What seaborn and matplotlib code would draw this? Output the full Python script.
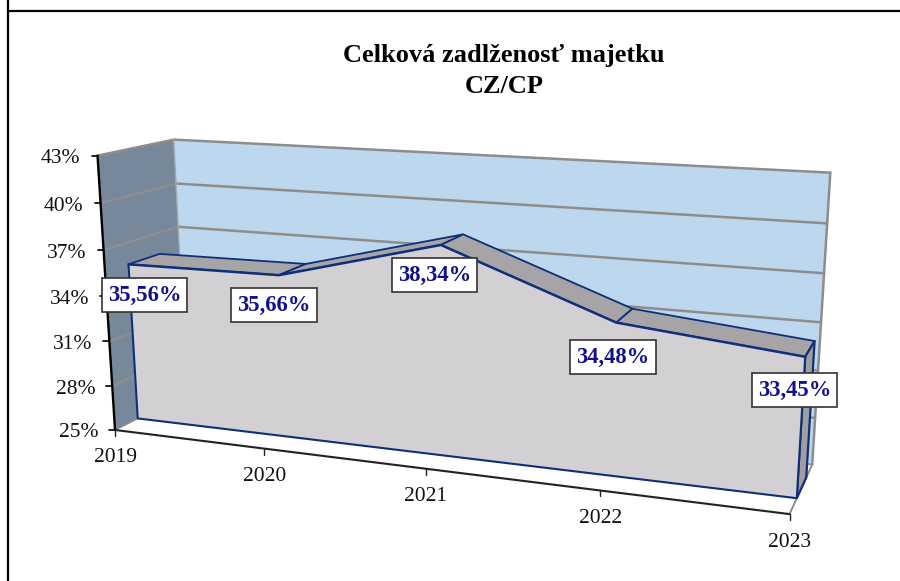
import numpy as np
import pandas as pd
import matplotlib
matplotlib.use("Agg")
import matplotlib.pyplot as plt
from matplotlib.transforms import Transform
import seaborn as sns

years = ["2019", "2020", "2021", "2022", "2023"]
values = [35.56, 35.66, 38.34, 34.48, 33.45]
labels = ["35,56%", "35,66%", "38,34%", "34,48%", "33,45%"]
y_ticks = [25, 28, 31, 34, 37, 40, 43]
title = "Celková zadlženosť majetku\nCZ/CP"

# where the label boxes sit, in pixels
label_pos = [(144.5, 295), (274, 305), (434.5, 275), (613, 357), (794.5, 390)]

# calibration of the 3d box: (category, value, depth) -> pixel
calib = [
    (0, 25, 0, 115, 427), (1, 25, 0, 263, 448), (2, 25, 0, 427, 468),
    (3, 25, 0, 600, 492), (4, 25, 0, 790, 515), (0, 43, 0, 98, 157),
    (0, 34, 0, 106, 297), (0, 43, 1, 173, 139), (4, 43, 1, 831, 173),
    (4, 25, 1, 812, 463), (0, 25, 1, 187, 397),
    (0, 37, 1, 179, 225), (4, 37, 1, 823, 273),
]
rows, rhs = [], []
for cx, cv, cd, px, py in calib:
    w = [cx, cv, cd, 1]
    rows.append(w + [0, 0, 0, 0] + [-px * c for c in w[:3]])
    rows.append([0, 0, 0, 0] + w + [-py * c for c in w[:3]])
    rhs += [px, py]
P = np.append(np.linalg.lstsq(np.array(rows, float), np.array(rhs, float), rcond=None)[0], 1).reshape(3, 4)


class Box3D(Transform):
    input_dims = 2
    output_dims = 2

    def __init__(self, box_depth):
        super().__init__()
        self.box_depth = box_depth

    def transform_non_affine(self, xy):
        xy = np.asarray(xy, float)
        w = np.column_stack([xy[:, 0], xy[:, 1], np.full(len(xy), self.box_depth), np.ones(len(xy))])
        out = w @ P.T
        return out[:, :2] / out[:, 2:]


def proj(x, v, d):
    return Box3D(d).transform_non_affine([(x, v)])[0]


def poly(ax, pts, **kw):
    ax.fill([p[0] for p in pts], [p[1] for p in pts], **kw)


sns.set_theme(style="white", rc={"font.family": ["Liberation Serif", "DejaVu Serif"]})
plt.rcParams["font.family"] = ["Liberation Serif", "DejaVu Serif"]

fig = plt.figure(figsize=(9, 5.81), dpi=100, facecolor="white")
ax = fig.add_axes([0, 0, 1, 1])
ax.axis("off")

navy = "#0F2F78"
grid = "#8F8D8B"
front_d, back_d = 0.3, 0.72
last = len(years) - 1
xs = np.arange(len(years))
df = pd.DataFrame({"x": xs, "v": values})

# walls and floor
poly(ax, [proj(0, 25, 0), proj(0, 43, 0), proj(0, 43, 1), proj(0, 25, 1)], color="#76889A", lw=0, zorder=1)
poly(ax, [proj(0, 25, 1), proj(0, 43, 1), proj(last, 43, 1), proj(last, 25, 1)], color="#BDD7EE", lw=0, zorder=1)

for t in y_ticks:
    a, b, c = proj(0, t, 0), proj(0, t, 1), proj(last, t, 1)
    ax.plot([a[0], b[0], c[0]], [a[1], b[1], c[1]], color=grid, lw=1.8 if t > 25 else 1.2, zorder=2)
a, b = proj(last, 25, 1), proj(last, 43, 1)
ax.plot([a[0], b[0]], [a[1], b[1]], color=grid, lw=1.8, zorder=2)
a, b = proj(0, 25, 1), proj(0, 43, 1)
ax.plot([a[0], b[0]], [a[1], b[1]], color="#A0A8B0", lw=1.0, zorder=2)
a, b = proj(last, 25, 0), proj(last, 25, 1)
ax.plot([a[0], b[0]], [a[1], b[1]], color=grid, lw=1.4, zorder=2)

# top faces of the area
for i in range(last):
    poly(ax, [proj(i, values[i], front_d), proj(i + 1, values[i + 1], front_d),
              proj(i + 1, values[i + 1], back_d), proj(i, values[i], back_d)],
         facecolor="#A6A4A6", edgecolor=navy, lw=1.3, zorder=3)
poly(ax, [proj(last, 25, front_d), proj(last, values[last], front_d),
          proj(last, values[last], back_d), proj(last, 25, back_d)],
     facecolor="#A09E9E", edgecolor=navy, lw=1.6, zorder=3)

# front face of the area
front = Box3D(front_d) + ax.transData
ax.fill_between(xs, 25, values, transform=front, facecolor="#D2D0D2", edgecolor="none", zorder=4)
sns.lineplot(data=df, x="x", y="v", estimator=None, sort=False, color=navy, lw=1.8,
             transform=front, ax=ax, zorder=5)
outline_x = [last, 0, 0, last, last]
outline_v = [values[last], values[0], 25, 25, values[last]]
ends = pd.DataFrame({"x": outline_x[1:], "v": outline_v[1:]})
sns.lineplot(data=ends, x="x", y="v", estimator=None, sort=False, color=navy, lw=1.5,
             transform=front, ax=ax, zorder=5)

# axes
sns.lineplot(x=[0, 0], y=[25, 43], estimator=None, sort=False, color="black", lw=1.7,
             transform=Box3D(0) + ax.transData, ax=ax, zorder=6)
sns.lineplot(x=[0, last], y=[25, 25], estimator=None, sort=False, color="#222222", lw=1.5,
             transform=Box3D(0) + ax.transData, ax=ax, zorder=6)
for t in y_ticks:
    px, py = proj(0, t, 0)
    ax.plot([px - 6, px], [py, py], color="black", lw=1.2, zorder=6)
    ax.text(px - 17, py + 3, f"{t}%", ha="right", va="center", fontsize=15.5, color="#111111", zorder=7)
for i, yr in enumerate(years):
    px, py = proj(i, 25, 0)
    ax.plot([px, px], [py, py + 6], color="#222222", lw=1.0, zorder=6)
    ax.text(px, py + 28, yr, ha="center", va="center", fontsize=15.5, color="#111111", zorder=7)

for (lx, ly), lab in zip(label_pos, labels):
    ax.text(lx, ly, lab, ha="center", va="center", fontsize=16.3, fontweight="bold", color="#10108C",
            zorder=8, bbox=dict(boxstyle="square,pad=0.27", fc="white", ec="#333333", lw=1.2))

ax.text(504, 71, title, ha="center", va="center", fontsize=19, fontweight="bold", color="black",
        linespacing=1.39, zorder=8)

# outer frame of the pasted picture
ax.plot([8, 8], [0, 581], color="black", lw=1.6, zorder=9)
ax.plot([8, 900], [10.5, 10.5], color="black", lw=1.6, zorder=9)

ax.set_xlim(0, 900)
ax.set_ylim(581, 0)
ax.set_xlabel("")
ax.set_ylabel("")
leg = ax.get_legend()
if leg:
    leg.remove()

fig.savefig("out.png", dpi=100)
